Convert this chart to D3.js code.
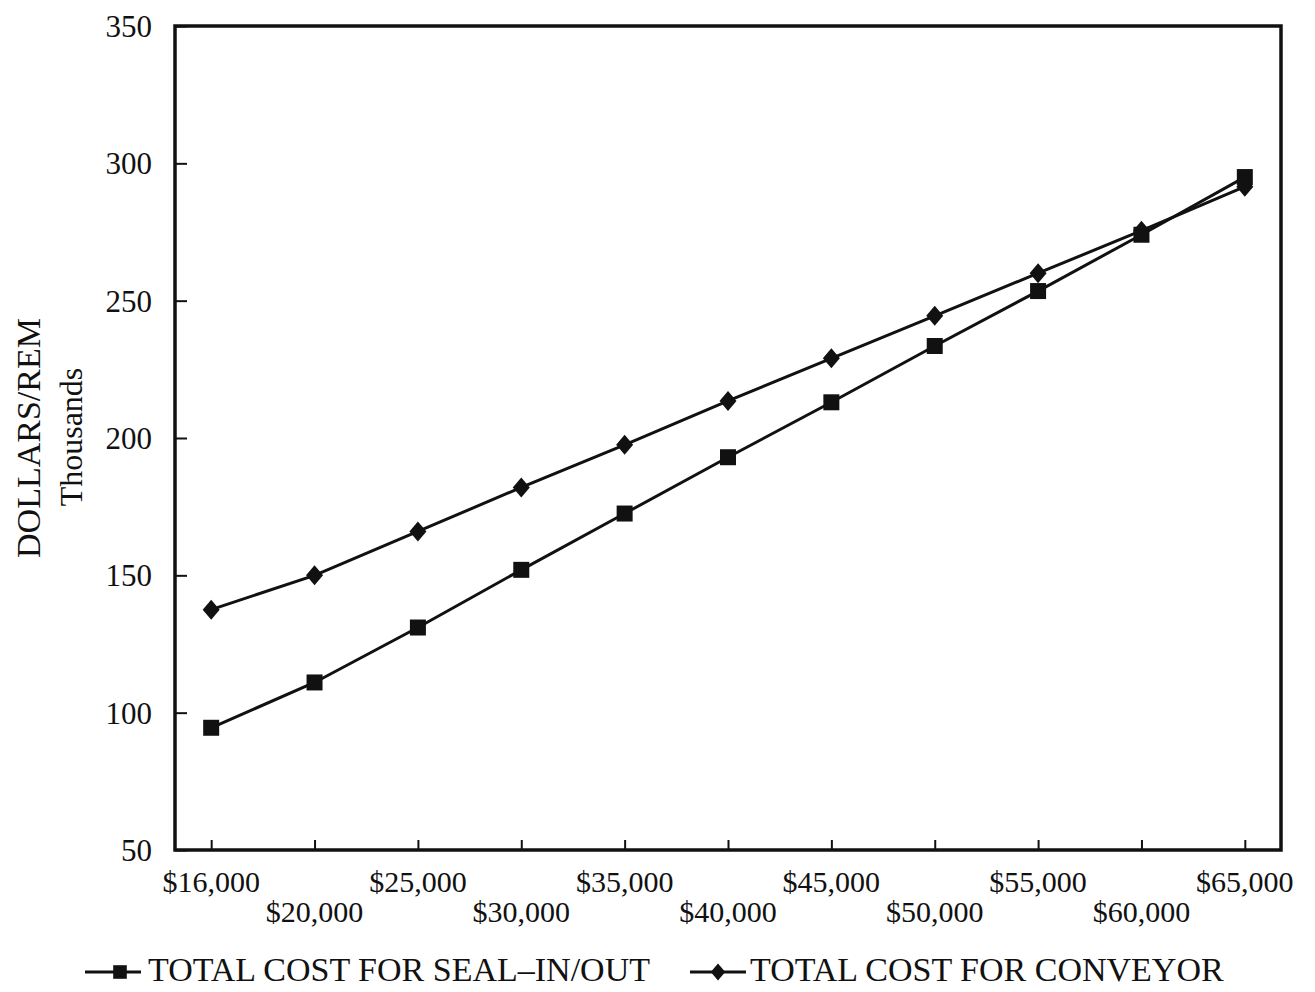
<!DOCTYPE html>
<html><head><meta charset="utf-8">
<script src="https://cdn.jsdelivr.net/npm/d3@7"></script>
<style>body{margin:0;background:#fff;} text{font-family:"Liberation Serif","DejaVu Serif",serif;fill:#111;}</style>
</head><body>
<svg id="c" width="1315" height="992"></svg>
<script>
const categories = ["$16,000","$20,000","$25,000","$30,000","$35,000","$40,000","$45,000","$50,000","$55,000","$60,000","$65,000"];
const sealInOut = [94.5, 111, 131, 152, 172.5, 193, 213, 233.5, 253.5, 274, 295];
const conveyor = [137.5, 150, 166, 182, 197.5, 213.5, 229, 244.5, 260, 275.5, 291.5];
const yTicks = [50, 100, 150, 200, 250, 300, 350];
const seriesNames = ["TOTAL COST FOR SEAL\u2013IN/OUT", "TOTAL COST FOR CONVEYOR"];

const svg = d3.select("#c");
const L = 175, R = 1281, T = 26, B = 850;
const x = d3.scalePoint().domain(categories).range([L, R]).padding(0.35);
const y = d3.scaleLinear().domain([50, 350]).range([B, T]);

// y axis ticks & labels
const yAx = svg.append("g").attr("transform", `translate(${L},0)`)
  .call(d3.axisRight(y).tickValues(yTicks).tickSize(12).tickFormat(""));
yAx.select(".domain").remove();
yAx.selectAll("line").attr("stroke", "#111").attr("stroke-width", 2);
svg.selectAll(".ylab").data(yTicks).enter().append("text")
  .attr("x", 152).attr("y", d => y(d) + 11).attr("text-anchor", "end")
  .attr("font-size", 31).text(d => d);

// x axis ticks
const xAx = svg.append("g").attr("transform", `translate(0,${B})`)
  .call(d3.axisTop(x).tickSize(10).tickFormat(""));
xAx.select(".domain").remove();
xAx.selectAll("line").attr("stroke", "#111").attr("stroke-width", 2);
svg.selectAll(".xlab").data(categories).enter().append("text")
  .attr("x", d => x(d)).attr("y", (d, i) => i % 2 === 0 ? 892 : 922)
  .attr("text-anchor", "middle").attr("font-size", 30).text(d => d);

// frame
svg.append("rect").attr("x", L).attr("y", T).attr("width", R - L).attr("height", B - T)
  .attr("fill", "none").attr("stroke", "#111").attr("stroke-width", 3.5);

// y titles
svg.append("text").attr("transform", "translate(40,438) rotate(-90)")
  .attr("text-anchor", "middle").attr("font-size", 34).text("DOLLARS/REM");
svg.append("text").attr("transform", "translate(82,437) rotate(-90)")
  .attr("text-anchor", "middle").attr("font-size", 32).text("Thousands");

// lines
const line = d3.line().x((d, i) => x(categories[i])).y(d => y(d));
[sealInOut, conveyor].forEach(s => {
  svg.append("path").datum(s).attr("d", line).attr("fill", "none")
    .attr("stroke", "#111").attr("stroke-width", 3);
});
// markers
const sq = "M-8,-8H8V8H-8Z";
const dm = "M0,-10L8.5,0L0,10L-8.5,0Z";
svg.selectAll(".m1").data(sealInOut).enter().append("path")
  .attr("d", sq).attr("transform", (d, i) => `translate(${x(categories[i])},${y(d)})`).attr("fill", "#111");
svg.selectAll(".m2").data(conveyor).enter().append("path")
  .attr("d", dm).attr("transform", (d, i) => `translate(${x(categories[i])},${y(d)})`).attr("fill", "#111");

// legend
const leg = [{x0: 85, sym: sq, mx: 120, tx: 148, name: seriesNames[0]}, {x0: 690, sym: dm, mx: 718, tx: 750, name: seriesNames[1]}];
leg.forEach(l => {
  svg.append("line").attr("x1", l.x0).attr("x2", l.x0 + 56).attr("y1", 972).attr("y2", 972)
    .attr("stroke", "#111").attr("stroke-width", 3);
  svg.append("path").attr("d", l.sym).attr("transform", `translate(${l.mx},972) scale(0.85)`).attr("fill", "#111");
  svg.append("text").attr("x", l.tx).attr("y", 981).attr("font-size", 34).text(l.name);
});
</script>
</body></html>
